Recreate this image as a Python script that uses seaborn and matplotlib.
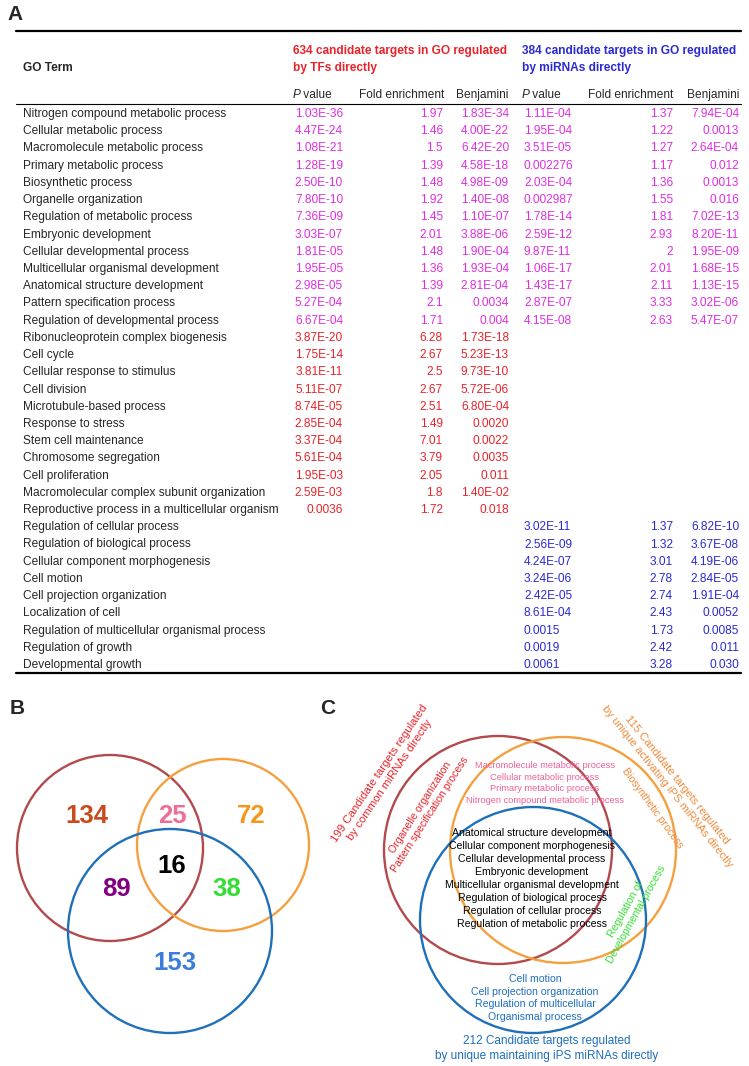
import numpy as np
import pandas as pd
import seaborn as sns
import matplotlib.pyplot as plt
from matplotlib.patches import Circle

# ---- table data (panel A) ----
terms = ["Nitrogen compound metabolic process", "Cellular metabolic process",
         "Macromolecule metabolic process", "Primary metabolic process",
         "Biosynthetic process", "Organelle organization",
         "Regulation of metabolic process", "Embryonic development",
         "Cellular developmental process", "Multicellular organismal development",
         "Anatomical structure development", "Pattern specification process",
         "Regulation of developmental process", "Ribonucleoprotein complex biogenesis",
         "Cell cycle", "Cellular response to stimulus", "Cell division",
         "Microtubule-based process", "Response to stress", "Stem cell maintenance",
         "Chromosome segregation", "Cell proliferation",
         "Macromolecular complex subunit organization",
         "Reproductive process in a multicellular organism",
         "Regulation of cellular process", "Regulation of biological process",
         "Cellular component morphogenesis", "Cell motion",
         "Cell projection organization", "Localization of cell",
         "Regulation of multicellular organismal process", "Regulation of growth",
         "Developmental growth"]
tf_p = ["1.03E-36", "4.47E-24", "1.08E-21", "1.28E-19", "2.50E-10", "7.80E-10", "7.36E-09",
        "3.03E-07", "1.81E-05", "1.95E-05", "2.98E-05", "5.27E-04", "6.67E-04",
        "3.87E-20", "1.75E-14", "3.81E-11", "5.11E-07", "8.74E-05", "2.85E-04", "3.37E-04",
        "5.61E-04", "1.95E-03", "2.59E-03", "0.0036"] + [""] * 9
tf_fold = ["1.97", "1.46", "1.5", "1.39", "1.48", "1.92", "1.45", "2.01", "1.48", "1.36",
           "1.39", "2.1", "1.71", "6.28", "2.67", "2.5", "2.67", "2.51", "1.49", "7.01",
           "3.79", "2.05", "1.8", "1.72"] + [""] * 9
tf_benj = ["1.83E-34", "4.00E-22", "6.42E-20", "4.58E-18", "4.98E-09", "1.40E-08", "1.10E-07",
           "3.88E-06", "1.90E-04", "1.93E-04", "2.81E-04", "0.0034", "0.004",
           "1.73E-18", "5.23E-13", "9.73E-10", "5.72E-06", "6.80E-04", "0.0020", "0.0022",
           "0.0035", "0.011", "1.40E-02", "0.018"] + [""] * 9
mi_p = ["1.11E-04", "1.95E-04", "3.51E-05", "0.002276", "2.03E-04", "0.002987", "1.78E-14",
        "2.59E-12", "9.87E-11", "1.06E-17", "1.43E-17", "2.87E-07", "4.15E-08"] + [""] * 11 + \
       ["3.02E-11", "2.56E-09", "4.24E-07", "3.24E-06", "2.42E-05", "8.61E-04", "0.0015",
        "0.0019", "0.0061"]
mi_fold = ["1.37", "1.22", "1.27", "1.17", "1.36", "1.55", "1.81", "2.93", "2", "2.01",
           "2.11", "3.33", "2.63"] + [""] * 11 + \
          ["1.37", "1.32", "3.01", "2.78", "2.74", "2.43", "1.73", "2.42", "3.28"]
mi_benj = ["7.94E-04", "0.0013", "2.64E-04", "0.012", "0.0013", "0.016", "7.02E-13",
           "8.20E-11", "1.95E-09", "1.68E-15", "1.13E-15", "3.02E-06", "5.47E-07"] + [""] * 11 + \
          ["6.82E-10", "3.67E-08", "4.19E-06", "2.84E-05", "1.91E-04", "0.0052", "0.0085",
           "0.011", "0.030"]

# ---- venn counts (panel B) ----
venn_labels = ["134", "25", "72", "16", "89", "38", "153"]

# ---- GO terms in venn (panel C) ----
c_red = ["Organelle organization", "Pattern specification process"]
c_pink = ["Macromolecule metabolic process", "Cellular metabolic process",
          "Primary metabolic process", "Nitrogen compound metabolic process"]
c_black = ["Anatomical structure development", "Cellular component morphogenesis",
           "Cellular developmental process", "Embryonic development",
           "Multicellular organismal development", "Regulation of biological process",
           "Regulation of cellular process", "Regulation of metabolic process"]
c_blue = ["Cell motion", "Cell projection organization", "Regulation of multicellular",
          "Organismal process"]
c_orange = ["Biosynthetic process"]
c_green = ["Regulation of", "Developmental process"]

df = pd.DataFrame({"term": terms, "tf_p": tf_p, "tf_fold": tf_fold, "tf_benj": tf_benj,
                   "mi_p": mi_p, "mi_fold": mi_fold, "mi_benj": mi_benj})

sns.set_theme(style="white")
plt.rcParams['font.family'] = ['Liberation Sans', 'DejaVu Sans']

MAG, RED, BLU = "#e02ee0", "#e8232a", "#2a2ad2"
C_RED, C_ORA, C_BLU = "#b24a4d", "#f4a03e", "#1f70b8"

fig = plt.figure(figsize=(7.49, 10.66), dpi=100)
ax = fig.add_axes([0, 0, 1, 1])
ax.set_xlim(0, 749)
ax.set_ylim(1066, 0)
ax.axis('off')

fs = 8.6
# panel A
ax.text(7, 15, "A", fontsize=15, fontweight='bold', va='center')
ax.plot([16, 741], [31, 31], color='black', lw=1.6)
ax.plot([16, 741], [104, 104], color='black', lw=0.8)
ax.plot([16, 741], [673, 673], color='black', lw=1.6)
ax.text(23, 68, "GO Term", fontsize=fs, fontweight='bold', va='center')
for x0, col, l2 in [(293, RED, "by TFs directly"), (522, BLU, "by miRNAs directly")]:
    ax.text(x0, 51, "%s candidate targets in GO regulated" % ("634" if col == RED else "384"),
            fontsize=fs, fontweight='bold', color=col, va='center')
    ax.text(x0, 68, l2, fontsize=fs, fontweight='bold', color=col, va='center')
for x0 in [293, 522]:
    ax.text(x0, 95, "P", fontsize=fs, style='italic', va='center')
    ax.text(x0 + 7, 95, " value", fontsize=fs, va='center')
ax.text(444, 95, "Fold enrichment", fontsize=fs, ha='right', va='center')
ax.text(508, 95, "Benjamini", fontsize=fs, ha='right', va='center')
ax.text(673, 95, "Fold enrichment", fontsize=fs, ha='right', va='center')
ax.text(739, 95, "Benjamini", fontsize=fs, ha='right', va='center')

y0, dy = 114, 17.22
for i, r in df.iterrows():
    y = y0 + i * dy
    if r.tf_p and r.mi_p:
        col = MAG
    elif r.tf_p:
        col = RED
    else:
        col = BLU
    ax.text(23, y, r.term, fontsize=fs, va='center')
    ax.text(343, y, r.tf_p, fontsize=fs, ha='right', va='center', color=col)
    ax.text(443, y, r.tf_fold, fontsize=fs, ha='right', va='center', color=col)
    ax.text(509, y, r.tf_benj, fontsize=fs, ha='right', va='center', color=col)
    ax.text(524, y, r.mi_p, fontsize=fs, ha='left', va='center', color=col)
    ax.text(673, y, r.mi_fold, fontsize=fs, ha='right', va='center', color=col)
    ax.text(739, y, r.mi_benj, fontsize=fs, ha='right', va='center', color=col)

# panel B
ax.text(10, 709, "B", fontsize=15, fontweight='bold', va='center')
for (cx, cy, rr), c in zip([(110, 848, 93), (223, 845, 86), (170, 931, 102)],
                           [C_RED, C_ORA, C_BLU]):
    ax.add_patch(Circle((cx, cy), rr, fill=False, ec=c, lw=1.7))
b_pos = [(87, 816), (172, 816), (251, 816), (172, 866), (116, 889), (227, 889), (175, 963)]
b_col = ["#c84b1e", "#f06e96", "#f5961e", "black", "#800080", "#33dd33", "#3c7ddc"]
for lab, (x, y), c in zip(venn_labels, b_pos, b_col):
    ax.text(x, y, lab, fontsize=18.5, fontweight='bold', color=c, ha='center', va='center')

# panel C
ax.text(320, 708, "C", fontsize=15, fontweight='bold', va='center')
for (cx, cy, rr), c in zip([(498, 850, 114), (563, 850, 113), (533, 920, 113)],
                           [C_RED, C_ORA, C_BLU]):
    ax.add_patch(Circle((cx, cy), rr, fill=False, ec=c, lw=1.7))

for j, t in enumerate(c_pink):
    ax.text(545, 766 + j * 11.4, t, fontsize=6.7, color="#f0609a", ha='center', va='center')
for j, t in enumerate(c_black):
    ax.text(532, 833 + j * 13, t, fontsize=7.6, color="black", ha='center', va='center')
for j, t in enumerate(c_blue):
    ax.text(535, 979 + j * 12.7, t, fontsize=7.6, color="#1e6ebe", ha='center', va='center')
ax.text(547, 1041, "212 Candidate targets regulated", fontsize=8.5, color="#1e6ebe",
        ha='center', va='center')
ax.text(547, 1056, "by unique maintaining iPS miRNAs directly", fontsize=8.5,
        color="#1e6ebe", ha='center', va='center')

rot = dict(ha='center', va='center', rotation_mode='anchor', multialignment='center')
ax.text(385, 777, "199 Candidate targets regulated\nby common miRNAs directly",
        fontsize=8.2, color="#e8232a", rotation=56, linespacing=1.25, **rot)
ax.text(425, 811, "\n".join(c_red), fontsize=7.6, color="#e8232a", rotation=57.5,
        linespacing=1.2, **rot)
ax.text(672, 783, "115 Candidate targets regulated\nby unique activating iPS miRNAs directly",
        fontsize=8.1, color="#f08a3c", rotation=-51.5, linespacing=1.25, **rot)
ax.text(652, 808, c_orange[0], fontsize=7.6, color="#f08a3c", rotation=-54, **rot)
ax.text(631, 912, "\n".join(c_green), fontsize=7.6, color="#33dd33", rotation=61,
        linespacing=1.2, **rot)

fig.savefig("out.png", dpi=100)
